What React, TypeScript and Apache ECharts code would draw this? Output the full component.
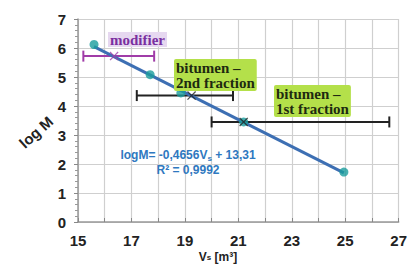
import React, { useEffect, useRef } from "react";
import * as echarts from "echarts";

const vs = [15.6, 17.7, 18.85, 21.2, 24.95];
const logM = [6.12, 5.08, 4.45, 3.45, 1.72];

const slope = -0.4656;
const intercept = 13.31;
const trendX = [15.6, 24.95];

const modifierBar = { center: 16.35, y: 5.72, lo: 15.2, hi: 17.85 };
const bit2Bar = { center: 19.25, y: 4.36, lo: 17.2, hi: 20.8 };
const bit1Bar = { center: 21.2, y: 3.45, lo: 20.0, hi: 26.65 };

const xTicks = [15, 17, 19, 21, 23, 25, 27];

const xPath = "path://M0,1L1,0L5,4L9,0L10,1L6,5L10,9L9,10L5,6L1,10L0,9L4,5Z";

function errorBar(name: string, b: any, color: string) {
  return [
    {
      name,
      type: "line",
      data: [[b.lo, b.y], [b.hi, b.y]],
      lineStyle: { color, width: 2 },
      symbol: "rect",
      symbolSize: [2, 11],
      itemStyle: { color },
      z: 3,
    },
    {
      name: name + "c",
      type: "scatter",
      data: [[b.center, b.y]],
      symbol: xPath,
      symbolSize: 9,
      itemStyle: { color },
      z: 6,
    },
  ];
}

export default function App() {
  const ref = useRef<HTMLDivElement>(null);
  useEffect(() => {
    document.body.style.margin = "0";
    const chart = echarts.init(ref.current!, null, { renderer: "svg" });
    const labelFont = { fontFamily: "Liberation Sans", fontWeight: "bold" as const, fontSize: 15, color: "#222" };
    const greenBox = {
      font: "bold 15px 'Liberation Serif'",
      fill: "#1e2a10",
      backgroundColor: "#b4e04a",
      padding: [1, 2],
      lineHeight: 15,
      borderRadius: 2,
    };
    chart.setOption({
      animation: false,
      grid: { left: 78, right: 8, top: 19, bottom: 44 },
      xAxis: {
        type: "value",
        min: 15,
        max: 27,
        interval: 1,
        axisLine: { onZero: false, lineStyle: { color: "#999", width: 1.5 } },
        axisTick: { show: true, inside: true, length: 4, lineStyle: { color: "#888" } },
        axisLabel: {
          ...labelFont,
          margin: 11,
          formatter: (v: number) => (xTicks.includes(v) ? String(v) : ""),
        },
        splitLine: { show: true, lineStyle: { color: "#cfcfcf", width: 1.2 } },
      },
      yAxis: {
        type: "value",
        min: 0,
        max: 7,
        interval: 1,
        axisLine: { show: true, lineStyle: { color: "#999", width: 1.5 } },
        axisTick: { show: true, length: 4, lineStyle: { color: "#888" } },
        minorTick: { show: true, splitNumber: 5, length: 3, lineStyle: { color: "#999" } },
        axisLabel: { ...labelFont, margin: 12 },
        splitLine: { show: true, lineStyle: { color: "#cfcfcf", width: 1.2 } },
      },
      series: [
        {
          name: "trend",
          type: "line",
          data: trendX.map((x) => [x, intercept + slope * x]),
          symbol: "none",
          lineStyle: { color: "#3d6fb3", width: 3 },
          z: 4,
        },
        {
          name: "points",
          type: "scatter",
          data: vs.map((x, i) => [x, logM[i]]),
          symbol: "circle",
          symbolSize: 9,
          itemStyle: { color: "#1a9c9c" },
          z: 5,
        },
        ...errorBar("modifier", modifierBar, "#a03ca8"),
        ...errorBar("bitumen2", bit2Bar, "#222"),
        ...errorBar("bitumen1", bit1Bar, "#222"),
      ],
      graphic: [
        {
          type: "text",
          x: 108,
          y: 32,
          style: {
            text: "modifier",
            font: "bold 15px 'Liberation Serif'",
            fill: "#7a2fa0",
            backgroundColor: "#e6d8f0",
            padding: [0, 2],
          },
          z: 10,
        },
        {
          type: "text",
          x: 174,
          y: 59,
          style: { text: "bitumen –\n2nd fraction", ...greenBox },
          z: 10,
        },
        {
          type: "text",
          x: 274,
          y: 85,
          style: { text: "bitumen –\n1st fraction", ...greenBox },
          z: 10,
        },
        {
          type: "text",
          x: 188,
          y: 147,
          style: {
            text: "logM= -0,4656V{sub|s} + 13,31\nR² = 0,9992",
            font: "bold 12px 'Liberation Sans'",
            fill: "#2e78c0",
            align: "center",
            lineHeight: 15,
            rich: {
              sub: { font: "bold 8px 'Liberation Sans'", fill: "#2e78c0", verticalAlign: "bottom", padding: [6, 0, 0, 0] },
            },
          },
          z: 10,
        },
        {
          type: "text",
          x: 36,
          y: 132,
          rotation: Math.PI / 4.3,
          style: {
            text: "log M",
            font: "bold 15px 'Liberation Sans'",
            fill: "#222",
            align: "center",
            verticalAlign: "middle",
          },
          z: 10,
        },
        {
          type: "text",
          x: 218,
          y: 251,
          style: {
            text: "V{sub|s} [m³]",
            font: "bold 12px 'Liberation Sans'",
            fill: "#222",
            align: "center",
            rich: { sub: { font: "bold 8px 'Liberation Sans'", fill: "#222" } },
          },
          z: 10,
        },
      ],
    });
    return () => chart.dispose();
  }, []);
  return <div ref={ref} style={{ width: 410, height: 266 }} />;
}
